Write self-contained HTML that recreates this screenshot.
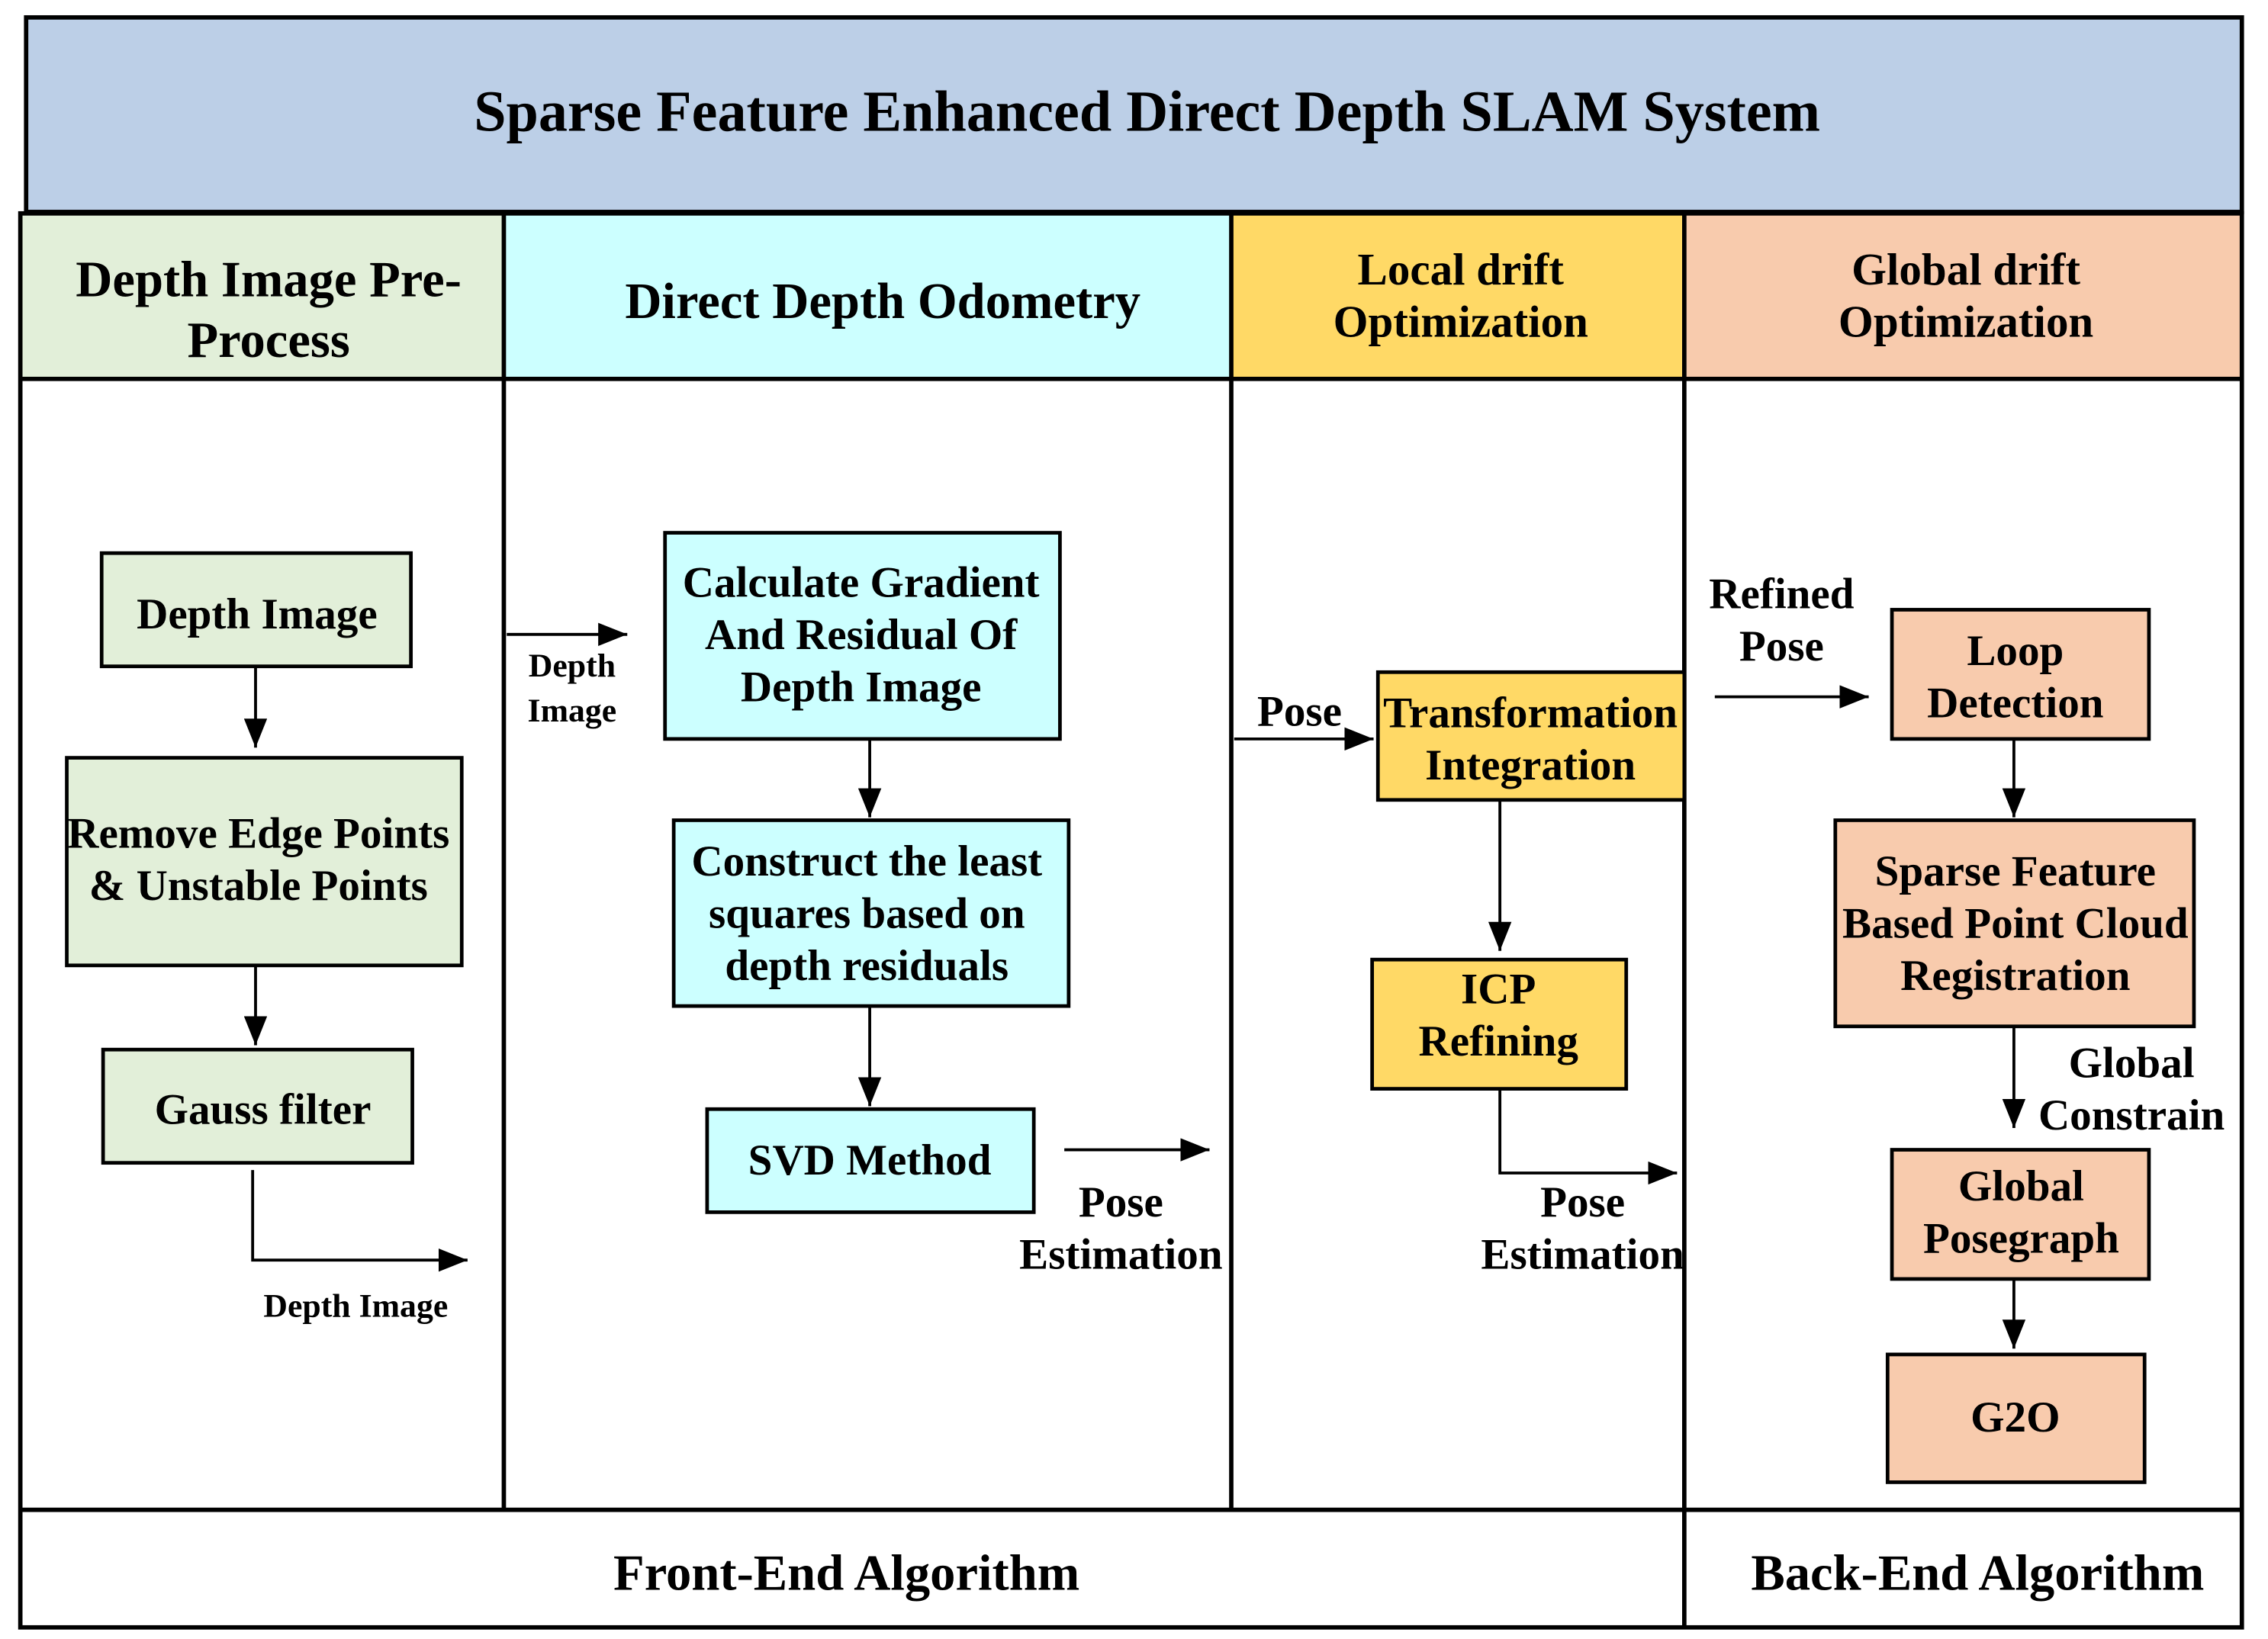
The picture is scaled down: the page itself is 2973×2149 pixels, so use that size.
<!DOCTYPE html>
<html><head><meta charset="utf-8"><style>html,body{margin:0;padding:0;background:#fff}svg{display:block}text{font-family:"Liberation Serif",serif;font-weight:bold;fill:#000}</style></head>
<body>
<svg width="2973" height="2149" viewBox="0 0 1562 1129" preserveAspectRatio="none" xmlns="http://www.w3.org/2000/svg">
<defs>
<marker id="b" markerWidth="22" markerHeight="16" refX="20" refY="8" orient="auto" markerUnits="userSpaceOnUse"><path d="M0,0 L20,8 L0,16 z"/></marker></defs>
<rect x="18" y="12" width="1526" height="134" fill="#bccfe7" stroke="#000" stroke-width="3"/>
<text x="790" y="90" font-size="40" text-anchor="middle">Sparse Feature Enhanced Direct Depth SLAM System</text>
<rect x="14" y="147" width="333" height="114" fill="#e2efd9"/>
<rect x="347" y="147" width="501" height="114" fill="#ccffff"/>
<rect x="848" y="147" width="312" height="114" fill="#ffd966"/>
<rect x="1160" y="147" width="384" height="114" fill="#f8cbad"/>
<g stroke="#000" stroke-width="3" fill="none">
<rect x="14" y="147" width="1530" height="974"/>
<line x1="14" y1="261" x2="1544" y2="261"/>
<line x1="14" y1="1040" x2="1544" y2="1040"/>
<line x1="347" y1="147" x2="347" y2="1040"/>
<line x1="848" y1="147" x2="848" y2="1040"/>
<line x1="1160" y1="147" x2="1160" y2="1121"/>
</g>
<g font-size="35" text-anchor="middle">
<text x="185" y="204">Depth Image Pre-</text><text x="185" y="246">Process</text>
<text x="608" y="219">Direct Depth Odometry</text>
</g>
<g font-size="31" text-anchor="middle">
<text x="1006" y="196">Local drift</text><text x="1006" y="232">Optimization</text>
<text x="1354" y="196">Global drift</text><text x="1354" y="232">Optimization</text>
<text x="583" y="1095" font-size="35">Front-End Algorithm</text>
<text x="1362" y="1095" font-size="35">Back-End Algorithm</text>
</g>
<g stroke="#000" stroke-width="2.5">
<rect x="70" y="381" width="213" height="78" fill="#e2efd9"/>
<rect x="46" y="522" width="272" height="143" fill="#e2efd9"/>
<rect x="71" y="723" width="213" height="78" fill="#e2efd9"/>
<rect x="458" y="367" width="272" height="142" fill="#ccffff"/>
<rect x="464" y="565" width="272" height="128" fill="#ccffff"/>
<rect x="487" y="764" width="225" height="71" fill="#ccffff"/>
<rect x="949" y="463" width="211" height="88" fill="#ffd966"/>
<rect x="945" y="661" width="175" height="89" fill="#ffd966"/>
<rect x="1303" y="420" width="177" height="89" fill="#f8cbad"/>
<rect x="1264" y="565" width="247" height="142" fill="#f8cbad"/>
<rect x="1303" y="792" width="177" height="89" fill="#f8cbad"/>
<rect x="1300" y="933" width="177" height="88" fill="#f8cbad"/>
</g>
<g font-size="30" text-anchor="middle">
<text x="177" y="433">Depth Image</text>
<text x="178" y="584">Remove Edge Points</text><text x="178" y="620">&amp; Unstable Points</text>
<text x="181" y="774">Gauss filter</text>
<text x="593" y="411">Calculate Gradient</text><text x="593" y="447">And Residual Of</text><text x="593" y="483">Depth Image</text>
<text x="597" y="603">Construct  the least</text><text x="597" y="639">squares based on</text><text x="597" y="675">depth residuals</text>
<text x="599" y="809">SVD Method</text>
<text x="1054" y="501">Transformation</text><text x="1054" y="537">Integration</text>
<text x="1032" y="691">ICP</text><text x="1032" y="727">Refining</text>
<text x="1388" y="458">Loop</text><text x="1388" y="494">Detection</text>
<text x="1388" y="610">Sparse Feature</text><text x="1388" y="646">Based Point Cloud</text><text x="1388" y="682">Registration</text>
<text x="1392" y="827">Global</text><text x="1392" y="863">Posegraph</text>
<text x="1388" y="986">G2O</text>
<text x="772" y="838">Pose</text><text x="772" y="874">Estimation</text>
<text x="1090" y="838">Pose</text><text x="1090" y="874">Estimation</text>
<text x="895" y="500">Pose</text>
<text x="1227" y="419">Refined</text><text x="1227" y="455">Pose</text>
<text x="1468" y="742">Global</text><text x="1468" y="778">Constrain</text>
</g>
<g font-size="23" text-anchor="middle">
<text x="245" y="907">Depth Image</text>
<text x="394" y="466">Depth</text><text x="394" y="497">Image</text>
</g>
<g stroke="#000" stroke-width="2" fill="none" marker-end="url(#b)">
<line x1="176" y1="459" x2="176" y2="515"/>
<line x1="176" y1="665" x2="176" y2="720"/>
<polyline points="174,806 174,868 322,868"/>
<line x1="349" y1="437" x2="432" y2="437"/>
<line x1="599" y1="509" x2="599" y2="563"/>
<line x1="599" y1="693" x2="599" y2="762"/>
<line x1="733" y1="792" x2="833" y2="792"/>
<line x1="850" y1="509" x2="946" y2="509"/>
<line x1="1033" y1="551" x2="1033" y2="655"/>
<polyline points="1033,750 1033,808 1155,808"/>
<line x1="1181" y1="480" x2="1287" y2="480"/>
<line x1="1387" y1="509" x2="1387" y2="563"/>
<line x1="1387" y1="707" x2="1387" y2="777"/>
<line x1="1387" y1="881" x2="1387" y2="929"/>
</g>
</svg>
</body></html>
